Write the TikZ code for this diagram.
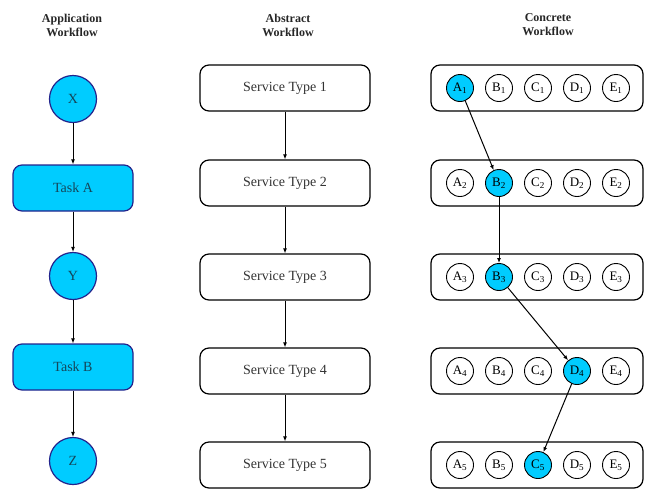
\documentclass[tikz,border=0pt]{standalone}
\usepackage{fontspec}
\setmainfont{Liberation Serif}
\usetikzlibrary{positioning,arrows.meta}
\definecolor{skyfill}{RGB}{0,204,255}
\definecolor{navyline}{RGB}{35,35,140}
\definecolor{tasktext}{RGB}{20,70,90}
\tikzset{
  head/.style={font=\fontsize{12}{14}\selectfont\bfseries, align=center, text=black!85},
  state/.style={circle, draw=navyline, fill=skyfill, line width=1.2pt, minimum size=47pt, inner sep=0pt, font=\fontsize{14}{16}\selectfont, text=tasktext},
  taskbox/.style={rectangle, rounded corners=9pt, draw=navyline, fill=skyfill, line width=1.2pt, minimum width=120pt, minimum height=46pt, font=\fontsize{14}{16}\selectfont, text=tasktext},
  servicebox/.style={rectangle, rounded corners=9pt, draw, line width=1.2pt, minimum width=170pt, minimum height=46pt, font=\fontsize{14}{16}\selectfont, text=black!80},
  rowbox/.style={rectangle, rounded corners=9pt, draw, line width=1.2pt, minimum width=212pt, minimum height=46pt},
  svc/.style={circle, draw, line width=0.9pt, minimum size=27pt, inner sep=0pt, font=\fontsize{13}{15}\selectfont},
  flow/.style={-{Latex[length=5pt,width=4pt]}, line width=1pt}
}
\begin{document}
\begin{tikzpicture}[x=1pt,y=-1pt]
\useasboundingbox (0,0) rectangle (645,488);

% column headings
\node[head] (hApp) at (72,25) {Application\\Workflow};
\node[head] (hAbs) at (288,25) {Abstract\\Workflow};
\node[head] (hCon) at (548,25) {Concrete\\Workflow};

% application workflow
\node[state] (X) at (73,99) {X};
\node[taskbox] (taskA) at (73,188) {Task A};
\node[state] (Y) at (73,276) {Y};
\node[taskbox] (taskB) at (73,367) {Task B};
\node[state] (Z) at (73,461) {Z};
\draw[flow] (X) -- (taskA);
\draw[flow] (taskA) -- (Y);
\draw[flow] (Y) -- (taskB);
\draw[flow] (taskB) -- (Z);

% abstract workflow
\foreach \r/\y in {1/88,2/183,3/277,4/371,5/465}
  \node[servicebox] (st\r) at (285,\y) {Service Type \r};
\foreach \r [evaluate=\r as \s using int(\r+1)] in {1,...,4}
  \draw[flow] (st\r) -- (st\s);

% concrete workflow, \p = chosen service in each row
\foreach \r/\y/\p in {1/88/1,2/183/2,3/277/2,4/371/4,5/465/3} {
  \node[rowbox] (row\r) at (537,\y) {};
  \foreach \c [count=\i] in {A,B,C,D,E} {
    \ifnum\i=\p \def\svcfill{skyfill}\else\def\svcfill{white}\fi
    \node[svc, fill=\svcfill] (\c\r) at (460+39*\i-39,\y) {\c\textsubscript{\r}};
  }
}
\draw[flow] (A1) -- (B2);
\draw[flow] (B2) -- (B3);
\draw[flow] (B3) -- (D4);
\draw[flow] (D4) -- (C5);

\end{tikzpicture}
\end{document}
